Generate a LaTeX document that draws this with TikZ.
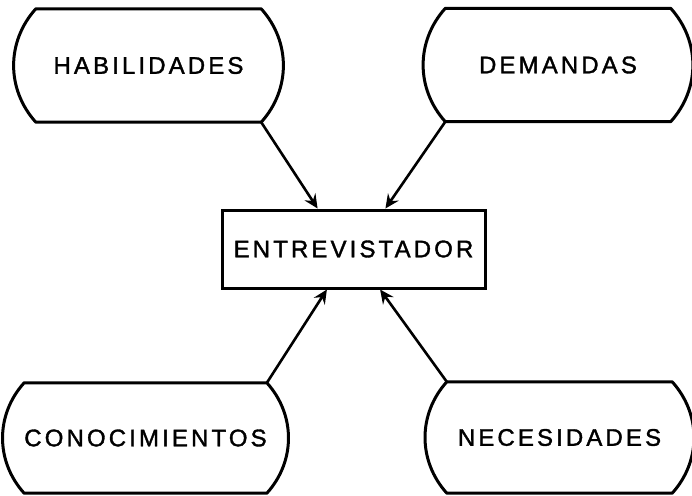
\documentclass[tikz,border=0pt]{standalone}
\usepackage{fontspec}
\usepackage{tikz}
\usetikzlibrary{arrows.meta, calc}
\newfontfamily\lblfont{Liberation Sans}[LetterSpace=13, FakeBold=1.5]

\begin{document}
\begin{tikzpicture}[x=1pt, y=-1pt,
    pill/.style={rectangle, inner sep=0pt, minimum width=225pt, minimum height=#1, font=\lblfont\fontsize{24}{28}\selectfont},
    outline/.style={line width=3pt, line join=round},
    box/.style={rectangle, draw, line width=3pt, inner sep=0pt, minimum width=263pt, minimum height=78pt, font=\lblfont\fontsize{24}{28}\selectfont},
    arrow/.style={-{Stealth[length=14pt, width=13pt, inset=5pt]}, line width=2.6pt}
]
\useasboundingbox (0,0) rectangle (692,495);

\node[pill=113pt] (hab) at (148.5,65.5) {HABILIDADES};
\node[pill=113pt] (dem) at (558,65) {DEMANDAS};
\node[pill=110pt] (con) at (145.5,438) {CONOCIMIENTOS};
\node[pill=111pt] (nec) at (559.5,437.5) {NECESIDADES};

\foreach \n in {hab,dem,con,nec}
  \draw[outline] (\n.north west) -- (\n.north east) to[bend left=42] (\n.south east)
    -- (\n.south west) to[bend left=42] (\n.north west) -- cycle;

\node[box] (entre) at (353.5,249) {ENTREVISTADOR};

\coordinate (in1) at ($(entre.north west)!0.365!(entre.north east)$);
\coordinate (in2) at ($(entre.north west)!0.62!(entre.north east)$);
\coordinate (in3) at ($(entre.south west)!0.40!(entre.south east)$);
\coordinate (in4) at ($(entre.south west)!0.60!(entre.south east)$);

\draw[arrow] (hab.south east) -- (in1);
\draw[arrow] (dem.south west) -- (in2);
\draw[arrow] (con.north east) -- (in3);
\draw[arrow] (nec.north west) -- (in4);

\end{tikzpicture}
\end{document}
